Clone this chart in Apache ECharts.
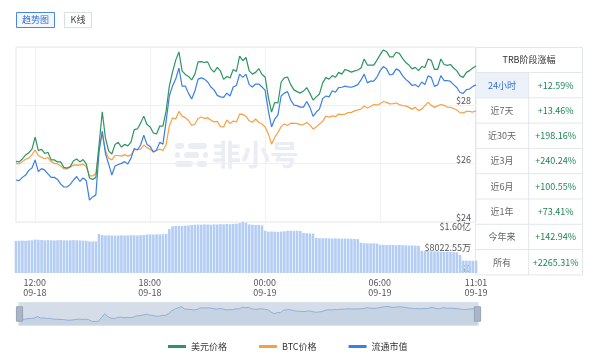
<!DOCTYPE html>
<html><head><meta charset="utf-8">
<script src="https://cdn.jsdelivr.net/npm/echarts@6/dist/echarts.min.js"></script>
<style>html,body{margin:0;padding:0;background:#fff}#c{width:600px;height:356px}</style>
</head><body><div id="c"></div>
<script>
// ---------- data ----------
const seriesNames = ['美元价格', 'BTC价格', '流通市值'];
const usdPrice = [26.08,26.06,26.16,26.30,26.37,26.50,26.91,26.45,26.49,26.35,
 26.39,26.13,26.13,26.06,26.06,25.87,25.85,25.90,26.10,26.16,
 26.06,26.14,25.99,25.51,25.46,25.53,26.64,27.78,26.88,26.44,
 26.33,26.66,26.73,26.57,26.66,26.61,26.74,27.17,27.19,27.39,
 27.63,27.34,27.26,27.05,27.02,27.29,27.29,27.81,28.66,29.14,
 29.55,29.83,29.18,29.06,28.99,28.87,29.07,29.49,29.50,29.47,
 29.49,29.25,29.14,29.30,29.18,28.89,28.99,28.94,29.23,29.16,
 29.69,29.53,29.64,29.18,29.07,29.13,29.26,29.06,28.97,28.27,
 27.77,28.10,28.08,28.80,28.94,28.97,28.71,28.53,28.47,28.42,
 28.49,28.61,28.41,28.18,28.29,28.39,28.77,28.95,28.90,29.02,
 28.96,29.13,29.07,29.23,29.19,29.14,29.18,29.21,29.28,29.59,
 29.38,29.38,29.38,29.55,29.74,29.90,29.84,29.66,29.66,29.82,
 29.78,29.61,29.47,29.38,29.25,29.30,29.19,29.33,29.30,29.59,
 29.54,29.23,29.23,29.59,29.40,29.37,29.40,29.28,29.18,29.01,
 28.96,29.13,29.19,29.28,29.35];
const btcPrice = [26.01,25.99,26.07,26.15,26.19,26.30,26.47,26.28,26.22,26.17,
 26.21,26.07,26.01,25.99,25.92,25.82,25.82,25.89,25.95,25.96,
 25.95,25.99,25.89,25.58,25.58,25.66,26.54,27.02,26.45,26.19,
 26.13,26.28,26.28,26.26,26.31,26.26,26.30,26.47,26.49,26.50,
 26.64,26.55,26.49,26.40,26.45,26.50,26.45,26.66,27.29,27.57,
 27.53,27.79,27.63,27.58,27.48,27.31,27.36,27.55,27.60,27.55,
 27.57,27.50,27.43,27.45,27.27,27.26,27.50,27.38,27.46,27.43,
 27.70,27.69,27.62,27.47,27.42,27.53,27.42,27.36,27.26,27.02,
 26.67,26.90,27.07,27.27,27.36,27.31,27.39,27.38,27.38,27.33,
 27.34,27.41,27.33,27.19,27.26,27.36,27.45,27.63,27.59,27.64,
 27.61,27.70,27.68,27.70,27.75,27.76,27.81,27.84,27.87,27.98,
 27.91,27.96,28.03,28.01,28.05,28.13,28.10,28.05,28.06,28.08,
 28.03,27.99,27.98,27.93,27.87,27.93,27.82,27.87,27.99,28.10,
 28.00,27.93,27.98,28.03,28.00,27.94,27.93,27.89,27.84,27.75,
 27.74,27.79,27.79,27.77,27.81];
const marketCap = [25.44,25.42,25.53,25.61,25.77,25.85,26.13,25.73,25.83,25.78,
 25.65,25.53,25.53,25.46,25.30,25.20,25.20,25.29,25.44,25.56,
 25.39,25.51,25.42,24.75,24.86,24.93,26.40,27.12,26.35,25.99,
 25.61,25.92,25.97,26.01,26.07,25.99,26.19,26.52,26.47,26.64,
 26.98,26.66,26.59,26.40,26.47,26.73,26.67,27.46,28.32,28.66,
 28.90,29.28,28.66,28.66,28.41,28.22,28.49,28.90,28.94,28.90,
 28.80,28.63,28.53,28.34,28.29,28.27,28.42,28.32,28.63,28.68,
 29.07,28.96,29.07,28.71,28.63,28.73,28.73,28.63,28.51,27.81,
 27.26,27.53,27.67,28.32,28.42,28.47,28.18,28.01,27.99,27.94,
 27.94,28.13,27.94,27.62,27.77,27.87,28.23,28.32,28.29,28.50,
 28.45,28.61,28.62,28.66,28.63,28.62,28.66,28.71,28.87,29.07,
 28.77,28.83,28.83,28.97,29.19,29.33,29.25,29.04,29.07,29.25,
 29.19,29.02,28.89,28.80,28.68,28.71,28.63,28.80,28.71,29.01,
 28.96,28.65,28.70,29.02,28.85,28.85,28.82,28.71,28.61,28.44,
 28.41,28.54,28.56,28.65,28.70];
// trading volume, unit: 万 USD
const volume = [10100,10150,10200,10150,10250,10300,10500,10450,10400,
 10300,10350,10300,10250,10300,10350,10300,10250,10300,10350,10300,10250,10200,10150,
 9950,9900,9950,12300,
 11900,11800,11850,11800,11750,11800,11850,11800,11850,11900,11850,11800,11900,11950,
 12100,12150,12100,12200,12150,12200,12300,13800,
 14700,14800,14850,14800,14900,14950,
 15100,15200,15250,15200,15300,15250,15200,15300,15250,15350,15300,15400,15350,15450,15500,
 15700,16045.1,15800,15300,15200,15100,15150,15000,13300,
 13000,13050,13000,12950,13050,13100,13300,13250,13200,13300,13200,
 12600,12500,12450,12400,
 11000,10950,10900,10950,10900,10850,10900,10850,10800,10850,10800,10750,10700,10650,
 9500,9400,9350,9300,9350,9250,
 8900,8850,8800,8850,8800,8750,8800,8750,8700,8650,8700,8600,8550,
 7000,6900,6850,6800,6750,6800,6700,6650,6700,6600,6550,6500,
 5660,3900,3880,3870,3850,3870];
const priceTicks = {min: 24, max: 30, interval: 2};
const volumeTicks = {min: 0, max: 16045.1, interval: 8022.55};
const tableTitle = 'TRB阶段涨幅';
const periods = ['24小时','近7天','近30天','近3月','近6月','近1年','今年来','所有'];
const changes = ['+12.59%','+13.46%','+198.16%','+240.24%','+100.55%','+73.41%','+142.94%','+2265.31%'];
const tabs = ['趋势图', 'K线'];
const watermark = '非小号';

// ---------- time axis ----------
const start = new Date(2023, 8, 18, 11, 1).getTime();
const end = new Date(2023, 8, 19, 11, 1).getTime();
const STEP = 10 * 60 * 1000;
const times = usdPrice.map((_, i) => start + i * STEP);
const labelTimes = [new Date(2023,8,18,12,0), new Date(2023,8,18,18,0), new Date(2023,8,19,0,0),
  new Date(2023,8,19,6,0), new Date(2023,8,19,11,1)].map(d => d.getTime());
const pad = n => String(n).padStart(2, '0');
const fmtTime = v => { const d = new Date(v); return pad(d.getHours()) + ':' + pad(d.getMinutes()) + '\n' + pad(d.getMonth()+1) + '-' + pad(d.getDate()); };
const fmtVol = v => v === 0 ? '$0' : (v >= 10000 ? '$' + (v/10000).toFixed(2) + '亿' : '$' + v.toFixed(2) + '万');
const pair = arr => arr.map((v, i) => [times[i], v]);

const FONT = '"Noto Sans CJK SC", "Noto Sans", sans-serif';
const GREEN = '#2e9463', ORANGE = '#f5a043', BLUE = '#3b7fe3';

// ---------- table / decorations ----------
const TL = 475.5, TR = 582.5, TM = 528.7, TT = 47.5, HH = 25, RH = 25.3;
const lineC = '#e2e6ed';
const g = [];
g.push({type:'rect', shape:{x:16.5, y:12.5, width:38, height:15}, style:{fill:'#f3f7fe', stroke:'#4a86e2', lineWidth:1}});
g.push({type:'text', x:35.5, y:20, style:{text:tabs[0], fill:'#2f6fd8', font:'9px ' + FONT, textAlign:'center', textVerticalAlign:'middle'}});
g.push({type:'rect', shape:{x:64.5, y:12.5, width:27, height:15}, style:{fill:'#fff', stroke:'#d9dde4', lineWidth:1}});
g.push({type:'text', x:78, y:20, style:{text:tabs[1], fill:'#444', font:'9px ' + FONT, textAlign:'center', textVerticalAlign:'middle'}});
const wmC = '#eaedf3';
[[175,143,9,6],[188,143,19,6],[175,152,5,6],[184,152,15,6],[203,152,5,6],[175,161,18,6],[197,161,10,6]].forEach(r => {
  g.push({type:'rect', z:0, shape:{x:r[0], y:r[1], width:r[2], height:r[3], r:3}, style:{fill:wmC}});
});
g.push({type:'text', z:0, x:212, y:155, style:{text:watermark, fill:wmC, font:'bold 29px ' + FONT, textVerticalAlign:'middle'}});
const TB = TT + HH + RH * periods.length;
g.push({type:'rect', shape:{x:TL, y:TT+HH, width:TM-TL, height:RH}, style:{fill:'#edf2fa'}});
g.push({type:'rect', shape:{x:TL, y:TT, width:TR-TL, height:TB-TT}, style:{fill:'none', stroke:lineC, lineWidth:1}});
g.push({type:'line', shape:{x1:TM, y1:TT+HH, x2:TM, y2:TB}, style:{stroke:lineC, lineWidth:1}});
for (let k = 0; k < periods.length; k++) {
  const y = TT + HH + RH * k;
  g.push({type:'line', shape:{x1:TL, y1:y, x2:TR, y2:y}, style:{stroke:lineC, lineWidth:1}});
  g.push({type:'text', x:(TL+TM)/2, y:y+RH/2, style:{text:periods[k], fill:k===0?'#2f6fd8':'#666', font:'9px ' + FONT, textAlign:'center', textVerticalAlign:'middle'}});
  g.push({type:'text', x:(TM+TR)/2, y:y+RH/2, style:{text:changes[k], fill:'#1b8752', font:'9px ' + FONT, textAlign:'center', textVerticalAlign:'middle'}});
}
g.push({type:'text', x:(TL+TR)/2, y:TT+HH/2, style:{text:tableTitle, fill:'#333', font:'9px ' + FONT, textAlign:'center', textVerticalAlign:'middle'}});

const chart = echarts.init(document.getElementById('c'), null, {renderer:'canvas'});
chart.setOption({
  animation: false,
  backgroundColor: '#fff',
  textStyle: {fontFamily: FONT},
  grid: [
    {left:16, right:124, top:47, height:175, show:true, borderColor:'#e3e7ee', borderWidth:1, backgroundColor:'transparent'},
    {left:16, right:124, top:222, height:51}
  ],
  legend: {data: seriesNames, left:163, top:337, icon:'rect', itemWidth:18, itemHeight:3, itemGap:32,
    textStyle:{fontSize:9, color:'#333', fontFamily: FONT}},
  xAxis: [
    {type:'value', gridIndex:0, min:start, max:end,
     axisLine:{show:false}, axisTick:{show:false}, axisLabel:{show:false}, splitLine:{show:false}},
    {type:'value', gridIndex:1, min:start, max:end,
     axisLine:{show:false}, axisTick:{show:false}, splitLine:{show:false},
     axisLabel:{customValues: labelTimes, formatter: fmtTime, color:'#555', fontSize:9, lineHeight:10, margin:5, hideOverlap:false}}
  ],
  yAxis: [
    {type:'value', gridIndex:0, position:'right', min:priceTicks.min, max:priceTicks.max, interval:priceTicks.interval,
     axisLine:{show:false}, axisTick:{show:false},
     splitLine:{lineStyle:{color:'#eef0f4'}},
     axisLabel:{inside:true, formatter:'${value}', color:'#555', fontSize:9, verticalAlign:'bottom', showMaxLabel:false, margin:5}},
    {type:'value', gridIndex:1, position:'right', min:volumeTicks.min, max:volumeTicks.max, interval:volumeTicks.interval,
     axisLine:{show:false}, axisTick:{show:false}, splitLine:{show:false},
     axisLabel:{inside:true, formatter: fmtVol, color:'#555', fontSize:9, margin:5,
       verticalAlignMaxLabel:'top', verticalAlignMinLabel:'bottom'}}
  ],
  dataZoom: [{type:'slider', xAxisIndex:[0,1], start:0, end:100, left:16, right:124, top:302, height:24,
    showDetail:false, brushSelect:false, moveHandleSize:0,
    borderColor:'#dde3ec', backgroundColor:'#eef2f7', fillerColor:'rgba(167,183,204,0.35)',
    dataBackground:{lineStyle:{color:'#86abdf', width:1, opacity:1}, areaStyle:{color:'#c9d7ea', opacity:0.6}},
    selectedDataBackground:{lineStyle:{color:'#86abdf', width:1, opacity:1}, areaStyle:{color:'#c9d7ea', opacity:0.6}},
    handleIcon:'path://M0,0H6V14H0Z', handleSize:'60%',
    handleStyle:{color:'#aab6c7', borderColor:'#95a3b8'}}],
  graphic: g,
  series: [
    {name:seriesNames[0], type:'line', xAxisIndex:0, yAxisIndex:0, showSymbol:false, z:4,
     lineStyle:{width:1.2, color:GREEN}, itemStyle:{color:GREEN}, data: pair(usdPrice),
     markLine:{silent:true, symbol:'none', label:{show:false}, z:1,
       lineStyle:{color:'#eef1f5', width:1, type:'solid'},
       data: labelTimes.slice(0, 4).map(t => ({xAxis: t}))}},
    {name:seriesNames[1], type:'line', xAxisIndex:0, yAxisIndex:0, showSymbol:false, z:3,
     lineStyle:{width:1.2, color:ORANGE}, itemStyle:{color:ORANGE}, data: pair(btcPrice)},
    {name:seriesNames[2], type:'line', xAxisIndex:0, yAxisIndex:0, showSymbol:false, z:3,
     lineStyle:{width:1.2, color:BLUE}, itemStyle:{color:BLUE}, data: pair(marketCap)},
    {name:'成交额', type:'bar', xAxisIndex:1, yAxisIndex:1, barWidth:2.6, itemStyle:{color:'#b3cdf4'}, data: pair(volume)}
  ]
});
</script></body></html>
